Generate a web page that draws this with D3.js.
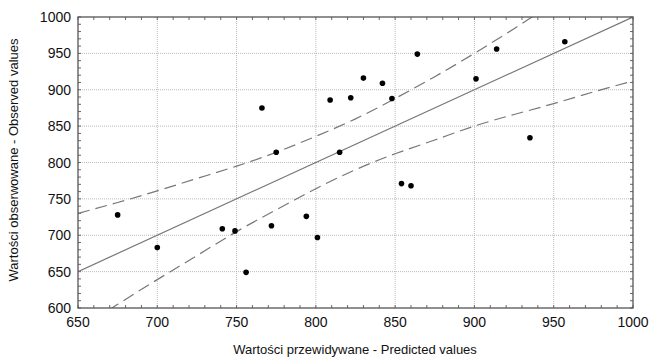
<!DOCTYPE html>
<html>
<head>
<meta charset="utf-8">
<script src="https://cdn.jsdelivr.net/npm/d3@7"></script>
<style>
	body { margin: 0; background: #fff; }
	svg { font-family: "Liberation Sans", Arial, sans-serif; }
	.tick-label { font-size: 14px; fill: #111; }
	.axis-title { font-size: 13px; fill: #111; }
</style>
</head>
<body>
<svg id="viz" width="651" height="357"></svg>
<script>

// predicted (x) and observed (y) values
let predicted = [675, 700, 741, 749, 756, 766, 772, 775, 794, 801, 809, 815, 822, 830, 842, 848, 854, 860, 864, 901, 914, 935, 957];
let observed  = [728, 683, 709, 706, 649, 875, 713, 814, 726, 697, 886, 814, 889, 916, 909, 888, 771, 768, 949, 915, 956, 834, 966];

// fitted line and confidence band
let bandX     = [650, 675, 700, 725, 750, 775, 800, 825, 850, 875, 900, 925, 950, 975, 1000];
let bandUpper = [730, 745, 761, 778, 795, 814, 836, 860, 888, 918, 950, 984, 1019, 1053, 1088];
let bandLower = [570, 605, 639, 672, 705, 735, 764, 790, 812, 831, 850, 866, 881, 897, 912];
let fitX = [650, 1000];
let fitY = [650, 1000];

let xTicks = [650, 700, 750, 800, 850, 900, 950, 1000];
let yTicks = [600, 650, 700, 750, 800, 850, 900, 950, 1000];

let drawChart = function() {
	const margin = { top: 17, right: 18, bottom: 49, left: 78 };

	let svg = d3.select("svg#viz");
	let plotWidth = 651 - margin.left - margin.right;
	let plotHeight = 357 - margin.top - margin.bottom;

	let x = d3.scaleLinear().domain([650, 1000]).range([0, plotWidth]);
	let y = d3.scaleLinear().domain([600, 1000]).range([plotHeight, 0]);

	let plot = svg.append("g")
		.attr("transform", `translate(${margin.left}, ${margin.top})`);

	plot.append("clipPath").attr("id", "clip")
		.append("rect").attr("width", plotWidth).attr("height", plotHeight);

	// grid
	plot.selectAll("line.vgrid").data(xTicks.slice(1, -1)).enter().append("line")
		.attr("x1", d => x(d)).attr("x2", d => x(d))
		.attr("y1", 0).attr("y2", plotHeight)
		.attr("stroke", "#aaa").attr("stroke-width", 0.8).attr("stroke-dasharray", "1,1");
	plot.selectAll("line.hgrid").data(yTicks.slice(1, -1)).enter().append("line")
		.attr("y1", d => y(d)).attr("y2", d => y(d))
		.attr("x1", 0).attr("x2", plotWidth)
		.attr("stroke", "#aaa").attr("stroke-width", 0.8).attr("stroke-dasharray", "1,1");

	// minor ticks on every side, pointing inward
	let xMinor = d3.range(650, 1001, 10);
	let yMinor = d3.range(600, 1001, 10);
	let tickCol = "#666";
	plot.selectAll("line.xb").data(xMinor).enter().append("line")
		.attr("x1", d => x(d)).attr("x2", d => x(d))
		.attr("y1", plotHeight).attr("y2", plotHeight - 3).attr("stroke", tickCol);
	plot.selectAll("line.xt").data(xMinor).enter().append("line")
		.attr("x1", d => x(d)).attr("x2", d => x(d))
		.attr("y1", 0).attr("y2", 3).attr("stroke", tickCol);
	plot.selectAll("line.yl").data(yMinor).enter().append("line")
		.attr("y1", d => y(d)).attr("y2", d => y(d))
		.attr("x1", 0).attr("x2", 3).attr("stroke", tickCol);
	plot.selectAll("line.yr").data(yMinor).enter().append("line")
		.attr("y1", d => y(d)).attr("y2", d => y(d))
		.attr("x1", plotWidth).attr("x2", plotWidth - 3).attr("stroke", tickCol);

	// lines
	let lines = plot.append("g").attr("clip-path", "url(#clip)");
	let line = d3.line().x(d => x(d[0])).y(d => y(d[1])).curve(d3.curveNatural);

	lines.append("path")
		.datum(fitX.map((v, i) => [v, fitY[i]]))
		.attr("d", d3.line().x(d => x(d[0])).y(d => y(d[1])))
		.attr("fill", "none").attr("stroke", "#777").attr("stroke-width", 1.2);

	[bandUpper, bandLower].forEach(function(band) {
		lines.append("path")
			.datum(bandX.map((v, i) => [v, band[i]]))
			.attr("d", line)
			.attr("fill", "none").attr("stroke", "#777").attr("stroke-width", 1.2)
			.attr("stroke-dasharray", "12,6");
	});

	// points
	plot.selectAll("circle.pt").data(predicted).enter().append("circle")
		.attr("cx", d => x(d))
		.attr("cy", (d, i) => y(observed[i]))
		.attr("r", 2.8)
		.attr("fill", "#000");

	// frame
	plot.append("rect")
		.attr("width", plotWidth).attr("height", plotHeight)
		.attr("fill", "none").attr("stroke", "#555").attr("stroke-width", 1.3);

	// tick labels
	plot.selectAll("text.xl").data(xTicks).enter().append("text")
		.attr("class", "tick-label")
		.attr("x", d => x(d)).attr("y", plotHeight + 19)
		.attr("text-anchor", "middle")
		.text(d => d);
	plot.selectAll("text.yl").data(yTicks).enter().append("text")
		.attr("class", "tick-label")
		.attr("x", -7).attr("y", d => y(d) + 5)
		.attr("text-anchor", "end")
		.text(d => d);

	// titles
	svg.append("text").attr("class", "axis-title")
		.attr("x", 355).attr("y", 354)
		.attr("text-anchor", "middle")
		.text("Wartości przewidywane - Predicted values");
	svg.append("text").attr("class", "axis-title")
		.attr("transform", "translate(18, 160) rotate(-90)")
		.attr("text-anchor", "middle")
		.text("Wartości obserwowane - Observed values");
};

drawChart();
</script>
</body>
</html>
